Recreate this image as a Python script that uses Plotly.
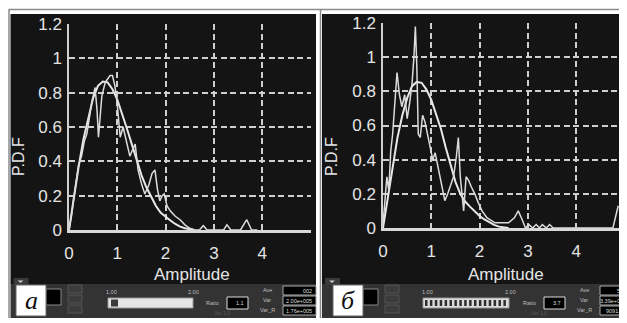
import plotly.graph_objects as go

# page body has an 8px margin: figure is drawn 8px right/down of the window corner
OFF = 8
W, H = 627 - OFF, 323 - OFF

# ---------------- data ----------------
smooth_x = [0, 0.1, 0.2, 0.3, 0.4, 0.5, 0.6, 0.7, 0.8, 0.9, 1.0, 1.1, 1.2, 1.3, 1.4,
            1.5, 1.6, 1.7, 1.8, 1.9, 2.0, 2.1, 2.2, 2.3, 2.4, 2.5, 2.6]
smooth_a_y = [0, 0.19, 0.37, 0.53, 0.66, 0.77, 0.84, 0.865, 0.86, 0.82, 0.76, 0.68, 0.59,
              0.50, 0.41, 0.32, 0.25, 0.19, 0.14, 0.10, 0.075, 0.055, 0.035, 0.02, 0.01, 0.004, 0]
smooth_b_y = [0, 0.18, 0.37, 0.53, 0.66, 0.76, 0.83, 0.855, 0.85, 0.81, 0.75, 0.67, 0.58,
              0.47, 0.37, 0.27, 0.20, 0.155, 0.125, 0.095, 0.07, 0.05, 0.033, 0.018, 0.008, 0.002, 0]

emp_a_x = [0, 0.05, 0.09, 0.15, 0.2, 0.26, 0.32, 0.37, 0.42, 0.47, 0.54, 0.58, 0.61, 0.65,
           0.68, 0.75, 0.8, 0.85, 0.9, 0.95, 0.99, 1.06, 1.12, 1.2, 1.26, 1.32, 1.37, 1.43,
           1.5, 1.57, 1.65, 1.72, 1.78, 1.83, 1.88, 1.93, 1.97, 2.03, 2.1, 2.2, 2.3, 2.4,
           2.5, 2.6, 2.7, 2.78, 2.86, 3.1, 3.2, 3.27, 3.35, 3.55, 3.68, 3.78, 3.9]
emp_a_y = [0, 0.08, 0.17, 0.3, 0.38, 0.43, 0.52, 0.56, 0.66, 0.74, 0.83, 0.7, 0.54, 0.68,
           0.78, 0.86, 0.88, 0.9, 0.9, 0.84, 0.76, 0.54, 0.6, 0.5, 0.43, 0.47, 0.5, 0.35,
           0.27, 0.21, 0.26, 0.33, 0.35, 0.24, 0.17, 0.2, 0.21, 0.14, 0.11, 0.08, 0.06, 0.03,
           0.01, 0, 0, 0.025, 0, 0, 0, 0.03, 0, 0, 0.06, 0, 0]

emp_b_x = [0, 0.04, 0.08, 0.12, 0.16, 0.2, 0.24, 0.29, 0.34, 0.39, 0.45, 0.5, 0.55, 0.6,
           0.64, 0.67, 0.7, 0.73, 0.77, 0.82, 0.87, 0.92, 0.97, 1.03, 1.08, 1.12, 1.18, 1.23,
           1.28, 1.34, 1.4, 1.46, 1.52, 1.56, 1.6, 1.64, 1.67, 1.72, 1.77, 1.83, 1.9, 1.97,
           2.05, 2.15, 2.25, 2.32, 2.45, 2.6, 2.72, 2.8, 2.88, 2.95, 3.02, 3.1, 3.17, 3.24,
           3.3, 3.38, 3.45, 3.52, 3.6, 4.0, 4.5, 4.76, 4.87]
emp_b_y = [0.02, 0.15, 0.3, 0.22, 0.45, 0.55, 0.7, 0.91, 0.78, 0.71, 0.78, 0.64, 0.73, 0.84,
           1.0, 1.18, 0.95, 0.55, 0.53, 0.66, 0.62, 0.55, 0.5, 0.4, 0.44, 0.38, 0.3, 0.22,
           0.16, 0.2, 0.25, 0.3, 0.42, 0.53, 0.3, 0.18, 0.1, 0.3, 0.28, 0.24, 0.2, 0.15,
           0.1, 0.06, 0.04, 0.03, 0.03, 0.03, 0.06, 0.1, 0.05, 0.0, 0.02, 0.0, 0.02, 0.0,
           0.02, 0.0, 0.02, 0, 0, 0, 0, 0, 0.13]

x_ticks = [0, 1, 2, 3, 4]
y_ticks = [0, 0.2, 0.4, 0.6, 0.8, 1, 1.2]
y_ticktext = ["0", "0.2", "0.4", "0.6", "0.8", "1", "1.2"]
panel_labels = ["a", "б"]
x_title = "Amplitude"
y_title = "P.D.F"

# ---------------- helpers (window pixel -> paper fraction) ----------------
def px(x):
    return (x - OFF) / W

def py(y):
    return 1 - (y - OFF) / H

fig = go.Figure()

LINE = "#dcdcdc"
GRID = "#cfcfcf"
TXT = "#e4e4e4"
FONT = "Liberation Sans, Arial, sans-serif"

panels = [
    dict(x0=69, x1=310.5, y0=230, y1=24, off=0, sx=smooth_x, sy=smooth_a_y, ex=emp_a_x, ey=emp_a_y),
    dict(x0=383, x1=624.5, y0=228, y1=23, off=317, sx=smooth_x, sy=smooth_b_y, ex=emp_b_x, ey=emp_b_y),
]

shapes = []
annotations = []

def rect(x0, y0, x1, y1, fill, line=None, lw=0, layer="below"):
    shapes.append(dict(type="rect", xref="paper", yref="paper",
                       x0=px(x0), x1=px(x1), y0=py(y1), y1=py(y0),
                       fillcolor=fill, line=dict(color=line or fill, width=lw), layer=layer))

def text(x, y, s, size=6, color="#bdbdbd", family=FONT, anchor="center", angle=0):
    annotations.append(dict(xref="paper", yref="paper", x=px(x), y=py(y), text=s,
                            showarrow=False, xanchor=anchor, yanchor="middle",
                            font=dict(size=size, color=color, family=family), textangle=angle))

# frame lines
shapes.append(dict(type="line", xref="paper", yref="paper", x0=px(8.5), x1=1, y0=py(9.5), y1=py(9.5),
                   line=dict(color="#8a8a8a", width=1.5), layer="below"))
shapes.append(dict(type="line", xref="paper", yref="paper", x0=px(9), x1=px(9), y0=py(9.5), y1=py(318),
                   line=dict(color="#8a8a8a", width=1.5), layer="below"))
shapes.append(dict(type="line", xref="paper", yref="paper", x0=px(320.5), x1=px(320.5), y0=py(9.5), y1=py(318),
                   line=dict(color="#8a8a8a", width=1.5), layer="below"))

# black panels
rect(10.5, 14, 316, 284, "#141414")
rect(322, 14, 627, 284, "#141414")

for i, p in enumerate(panels):
    n = "" if i == 0 else str(i + 1)
    xa = "xaxis" + n
    ya = "yaxis" + n
    fig.add_trace(go.Scatter(x=p["sx"], y=p["sy"], mode="lines", xaxis="x" + n, yaxis="y" + n,
                             line=dict(color="#e8e8e8", width=2), cliponaxis=False, showlegend=False))
    fig.add_trace(go.Scatter(x=p["ex"], y=p["ey"], mode="lines", xaxis="x" + n, yaxis="y" + n,
                             line=dict(color=LINE, width=1.5), cliponaxis=False, showlegend=False))
    fig.layout[xa] = dict(domain=[px(p["x0"]), px(p["x1"])], range=[0, 5], tickvals=x_ticks,
                          showgrid=True, gridcolor=GRID, gridwidth=1.6, griddash="6px,3.5px",
                          zeroline=False, showline=True, linecolor="#d8d8d8", linewidth=2.5,
                          ticks="", ticklabelstandoff=6, automargin=False,
                          tickfont=dict(size=17, color=TXT, family=FONT),
                          anchor="y" + n, fixedrange=True)
    fig.layout[ya] = dict(domain=[py(p["y0"]), py(p["y1"])], range=[0, 1.2], tickvals=y_ticks,
                          ticktext=y_ticktext, automargin=False,
                          showgrid=True, gridcolor=GRID, gridwidth=1.6, griddash="6px,3.5px",
                          zeroline=False, showline=True, linecolor="#d0d0d0", linewidth=1.5,
                          ticks="", ticklabelstandoff=2,
                          tickfont=dict(size=17, color=TXT, family=FONT),
                          anchor="x" + n, fixedrange=True)
    # titles
    text((p["x0"] + p["x1"]) / 2 + 2, 274.5, x_title, size=17, color=TXT)
    text(p["x0"] - 51 if i == 0 else p["x0"] - 52, 157, y_title, size=16, color=TXT, angle=-90)

    # ---- control bar ----
    o = p["off"]
    bx1 = 316 if i == 0 else 627
    bx0 = 10.5 if i == 0 else 322
    rect(bx0, 284, bx1, 318, "#333333")
    rect(bx0 + 3, 278, bx0 + 18, 285, "#3a3a3a")
    shapes.append(dict(type="path", xref="paper", yref="paper",
                       path=f"M {px(bx0+7)} {py(280.5)} L {px(bx0+13)} {py(280.5)} L {px(bx0+10)} {py(283)} Z",
                       fillcolor="#cccccc", line=dict(width=0), layer="below"))
    # black square + small buttons
    rect(o + 46, 289, o + 61, 305, "#000000", "#888888", 1)
    for k in range(3):
        rect(o + 68, 285 + k * 10, o + 82, 293 + k * 10, "#3c3c3c", "#555555", 1)
    # slider
    text(o + 111, 291.5, "1.00", size=5.5)
    text(o + 193, 291.5, "2.00", size=5.5)
    if i == 0:
        rect(o + 108, 298, o + 193, 308, "#e6e6e6", "#999999", 1)
        rect(o + 111, 299.5, o + 118, 306.5, "#3a3a3a")
    else:
        rect(o + 106, 298, o + 192, 308, "#dcdcdc", "#999999", 1)
        for k in range(17):
            rect(o + 108 + k * 4.9, 300, o + 110.5 + k * 4.9, 306, "#2e2e2e")
    text(o + 212, 303, "Ratio", size=5.5)
    rect(o + 227, 297, o + 248, 309, "#000000", "#dddddd", 1)
    text(o + 246, 303, "1.1" if i == 0 else "3.7", size=5.5, color="#dddddd", anchor="right")
    text(o + 222, 313, "Ver 1.0", size=5, color="#5a5a5a")
    # stats
    for k, (lab, val) in enumerate(zip(["Ave", "Var", "Var_R"],
                                       ["002", "2.00e+005", "1.76e+005"] if i == 0 else
                                       ["57", "3.39e+00", "9091.6"])):
        text(o + 267, 290 + k * 10, lab, size=5.5)
        rect(o + 283, 286 + k * 10, min(o + 316, bx1), 295 + k * 10, "#000000", "#aaaaaa", 1)
        text(min(o + 315, bx1 - 2), 290.5 + k * 10, val, size=5.5, color="#dddddd", anchor="right")
    # panel label box
    rect(o + 16, 285, o + 46, 316, "#ffffff", "#666666", 1, layer="above")
    text(o + 31, 300.5, "<i>" + panel_labels[i] + "</i>", size=26, color="#111111",
         family="Liberation Serif, Times New Roman, serif")

fig.update_layout(width=W, height=H, margin=dict(l=0, r=0, t=0, b=0),
                  paper_bgcolor="#ffffff", plot_bgcolor="rgba(0,0,0,0)",
                  shapes=shapes, annotations=annotations, showlegend=False)

fig.write_html("out.html")
